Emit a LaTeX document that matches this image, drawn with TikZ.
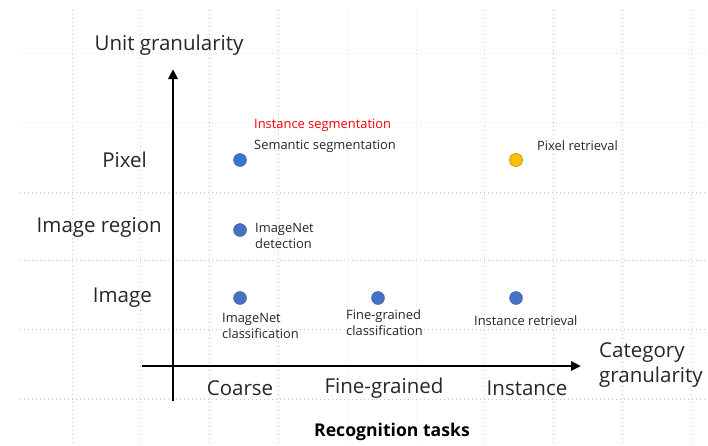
\documentclass[tikz,border=0pt]{standalone}
\usepackage{fontspec}
\setmainfont{Open Sans}
\usetikzlibrary{arrows.meta}
\definecolor{ptblue}{RGB}{68,114,196}
\definecolor{ptyellow}{RGB}{255,192,0}
\definecolor{ptyborder}{RGB}{191,144,0}
\definecolor{ptred}{RGB}{255,0,0}
\tikzset{
  grid/.style={gray!45, line width=0.6pt, dash pattern=on 0.7pt off 3.3pt},
  faint/.style={gray!22, line width=0.6pt, dash pattern=on 0.7pt off 3.3pt},
  axis/.style={line width=2.6pt, -{Triangle[length=10pt,width=9pt]}},
  dotb/.style={circle, fill=ptblue, draw=ptblue!80!black, line width=0.4pt, inner sep=0pt, minimum size=13pt},
  doty/.style={circle, fill=ptyellow, draw=ptyborder, line width=0.6pt, inner sep=0pt, minimum size=13pt},
  big/.style={font=\fontsize{20.5}{25}\selectfont, text=black!85, inner sep=0pt},
  small/.style={font=\fontsize{12.9}{16}\selectfont, text=black!85, inner sep=0pt, align=left},
}
\begin{document}
\begin{tikzpicture}[x=1pt,y=-1pt]
\useasboundingbox (0,0) rectangle (708,445);
% grid
\foreach \x in {72,140,209,278} \draw[grid] (\x,10) -- (\x,445);
\foreach \x in {347,416} \draw[faint] (\x,10) -- (\x,445);
\foreach \x in {484,553,622,691} \draw[grid] (\x,10) -- (\x,445);
\foreach \y in {53,122} \draw[faint] (20,\y) -- (708,\y);
\foreach \y in {192,260,329,399} \draw[grid] (20,\y) -- (708,\y);
% axes
\coordinate (ybot) at (173,401);
\coordinate (ytop) at (173,69);
\coordinate (xl) at (142,366);
\coordinate (xr) at (581,366);
\draw[axis] (ybot) -- (ytop);
\draw[axis] (xl) -- (xr);
% axis labels
\node[big] (ylab) at (169,45) {Unit granularity};
\node[big, align=left, anchor=west] (xlab) at (599,365) {Category\\granularity};
\node[big, anchor=east] (pix) at (147,160) {Pixel};
\node[big, anchor=east] (reg) at (162,227) {Image region};
\node[big, anchor=east] (img) at (152,298) {Image};
\node[big] (coarse) at (240,388) {Coarse};
\node[big] (fine) at (384,388) {Fine-grained};
\node[big] (inst) at (527,388) {Instance};
\node[font=\fontsize{17.6}{21}\selectfont\bfseries, inner sep=0pt] (rt) at (392,432) {Recognition tasks};
% points
\node[dotb] (p1) at (240,160) {};
\node[dotb] (p2) at (240,230) {};
\node[dotb] (p3) at (240,298) {};
\node[dotb] (p4) at (378,298) {};
\node[dotb] (p5) at (516,298) {};
\node[doty] (p6) at (516,160) {};
% point labels
\node[small, text=ptred, anchor=west] (l0) at (254,125) {Instance segmentation};
\node[small, anchor=west] (l1) at (254,146) {Semantic segmentation};
\node[small, anchor=west] (l6) at (537,146) {Pixel retrieval};
\node[small, anchor=west] (l2) at (255,236) {ImageNet\\detection};
\node[small, anchor=west] (l3) at (222,326) {ImageNet\\classification};
\node[small, anchor=west] (l4) at (346,323) {Fine-grained\\classification};
\node[small, anchor=west] (l5) at (474,321) {Instance retrieval};
\end{tikzpicture}
\end{document}
